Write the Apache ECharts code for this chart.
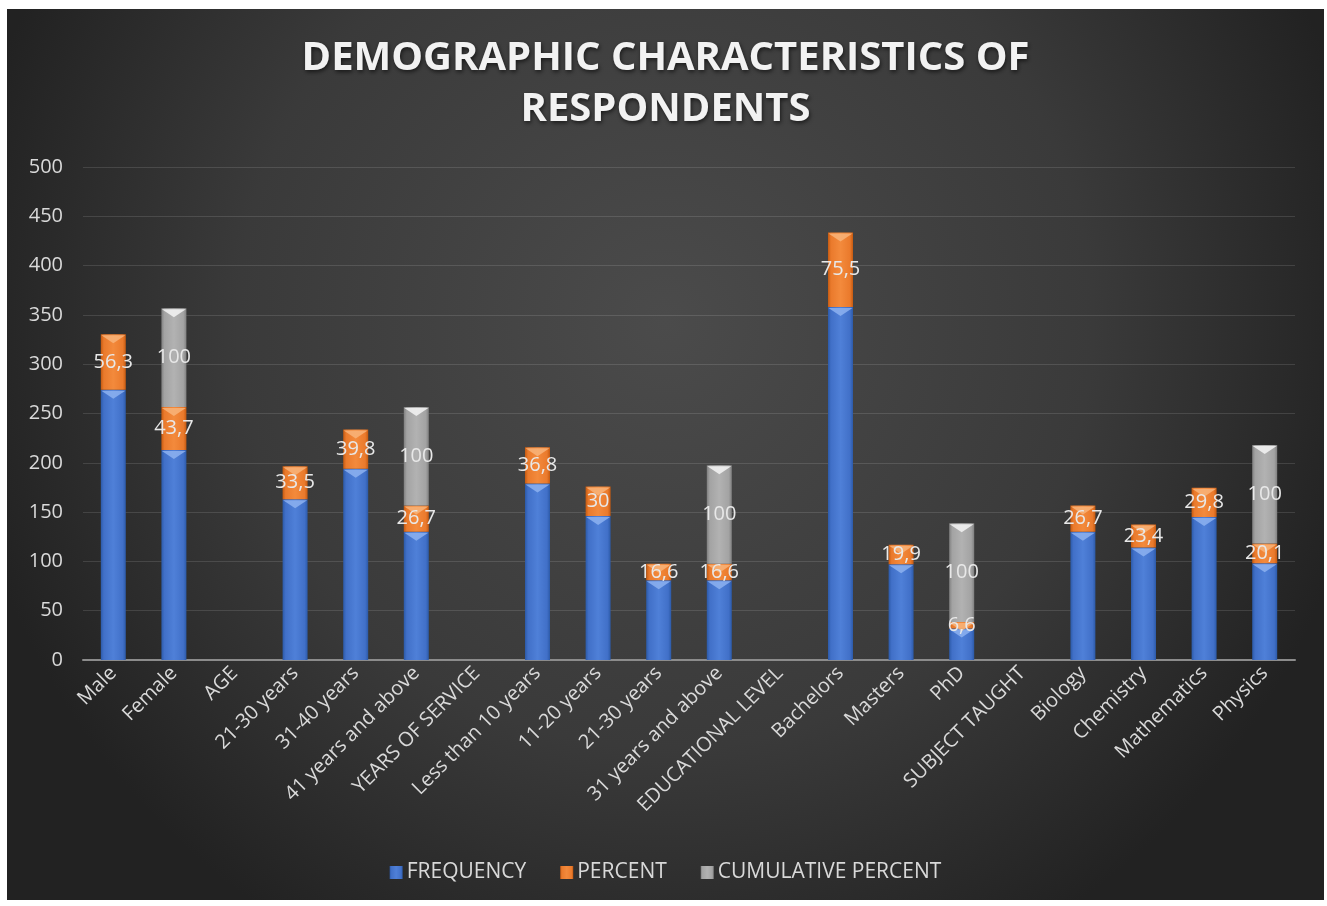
<!DOCTYPE html>
<html>
<head>
<meta charset="utf-8">
<script src="https://cdn.jsdelivr.net/npm/echarts@6/dist/echarts.min.js"></script>
<style>
html,body{margin:0;padding:0;background:#ffffff;width:1327px;height:906px;overflow:hidden;}
#chart{position:absolute;left:7px;top:9px;width:1317px;height:891px;}
</style>
</head>
<body>
<div id="chart"></div>
<script>
const categories = ['Male','Female','AGE','21-30 years','31-40 years','41 years and above','YEARS OF SERVICE','Less than 10 years','11-20 years','21-30 years','31 years and above','EDUCATIONAL LEVEL','Bachelors','Masters','PhD','SUBJECT TAUGHT','Biology','Chemistry','Mathematics','Physics'];
const frequency = [274,213,null,163,194,130,null,179,146,81,81,null,358,97,32,null,130,114,145,98];
const percent = [56.3,43.7,null,33.5,39.8,26.7,null,36.8,30,16.6,16.6,null,75.5,19.9,6.6,null,26.7,23.4,29.8,20.1];
const cumulative = [null,100,null,null,null,100,null,null,null,null,100,null,null,null,100,null,null,null,null,100];
const yTicks = {min:0,max:500,interval:50};

const FONT = 'Open Sans';
function grad(dark, base, light){
  return new echarts.graphic.LinearGradient(0,0,1,0,[
    {offset:0,color:dark},{offset:0.12,color:base},{offset:0.5,color:light},{offset:0.88,color:base},{offset:1,color:dark}
  ]);
}
const blue = grad('#2c5aa8','#4170c8','#4f80d8');
const orange = grad('#c55a11','#ea7a2c','#f38a3c');
const gray = grad('#808080','#a3a3a3','#b2b2b2');
const fmtNum = v => String(v).replace('.',',');

// bevel caps and segment labels, derived from the data arrays
const capColors = ['#8db2f0','#f8b47a','#f4f4f4'];
const caps = [];
const segLabels = [];
categories.forEach((c,i)=>{
  let acc = 0;
  [frequency,percent,cumulative].forEach((arr,k)=>{
    const v = arr[i];
    if (v!=null){
      const base = acc; acc += v;
      caps.push([i,acc,k]);
      if (k>0) segLabels.push([i,(base+acc)/2,v]);
    }
  });
});

const chart = echarts.init(document.getElementById('chart'));
chart.setOption({
  backgroundColor:{type:'radial',x:0.5,y:0.35,r:0.8,colorStops:[{offset:0,color:'#4b4b4b'},{offset:0.6,color:'#3a3a3a'},{offset:1,color:'#222222'}]},
  title:{text:'DEMOGRAPHIC CHARACTERISTICS OF\nRESPONDENTS',left:'center',top:19,
    textStyle:{color:'#f2f2f2',fontFamily:FONT,fontWeight:'bold',fontSize:40,lineHeight:51,
      textShadowColor:'rgba(0,0,0,0.6)',textShadowBlur:4,textShadowOffsetX:1,textShadowOffsetY:2}},
  legend:{bottom:12,left:'center',itemWidth:13,itemHeight:13,itemGap:34,icon:'rect',
    textStyle:{color:'#d9d9d9',fontFamily:FONT,fontSize:21,padding:[0,0,0,-1]},
    data:['FREQUENCY','PERCENT','CUMULATIVE PERCENT']},
  grid:{left:76,right:29,top:158,bottom:240,containLabel:false},
  xAxis:{type:'category',data:categories,
    axisLine:{lineStyle:{color:'#8c8c8c',width:2}},axisTick:{show:false},
    axisLabel:{rotate:45,interval:0,color:'#d9d9d9',fontFamily:FONT,fontSize:20,margin:10}},
  yAxis:{type:'value',min:yTicks.min,max:yTicks.max,interval:yTicks.interval,
    axisLine:{show:false},axisTick:{show:false},
    splitLine:{lineStyle:{color:'rgba(255,255,255,0.12)',width:1}},
    axisLabel:{color:'#d9d9d9',fontFamily:FONT,fontSize:20,margin:20}},
  series:[
    {name:'FREQUENCY',type:'bar',stack:'s',barWidth:25,z:2,data:frequency,itemStyle:{color:blue}},
    {name:'PERCENT',type:'bar',stack:'s',barWidth:25,z:2,data:percent,itemStyle:{color:orange}},
    {name:'CUMULATIVE PERCENT',type:'bar',stack:'s',barWidth:25,z:2,data:cumulative,itemStyle:{color:gray}},
    {name:'caps',type:'custom',silent:true,z:3,data:caps,encode:{x:0,y:1},
      renderItem:function(params,api){
        const p = api.coord([api.value(0),api.value(1)]);
        const col = capColors[api.value(2)];
        const w = 12, h = 8;
        return {type:'polygon',shape:{points:[[p[0]-w,p[1]+1],[p[0]+w,p[1]+1],[p[0],p[1]+1+h]]},
          style:{fill:col,opacity:0.85}};
      }},
    {name:'labels',type:'custom',silent:true,z:4,data:segLabels,encode:{x:0,y:1},
      renderItem:function(params,api){
        const p = api.coord([api.value(0),api.value(1)]);
        return {type:'text',x:p[0],y:p[1],
          style:{text:fmtNum(api.value(2)),fill:'#e8e8e8',font:'20px "Open Sans"',align:'center',verticalAlign:'middle'}};
      }}
  ]
});
</script>
</body>
</html>
